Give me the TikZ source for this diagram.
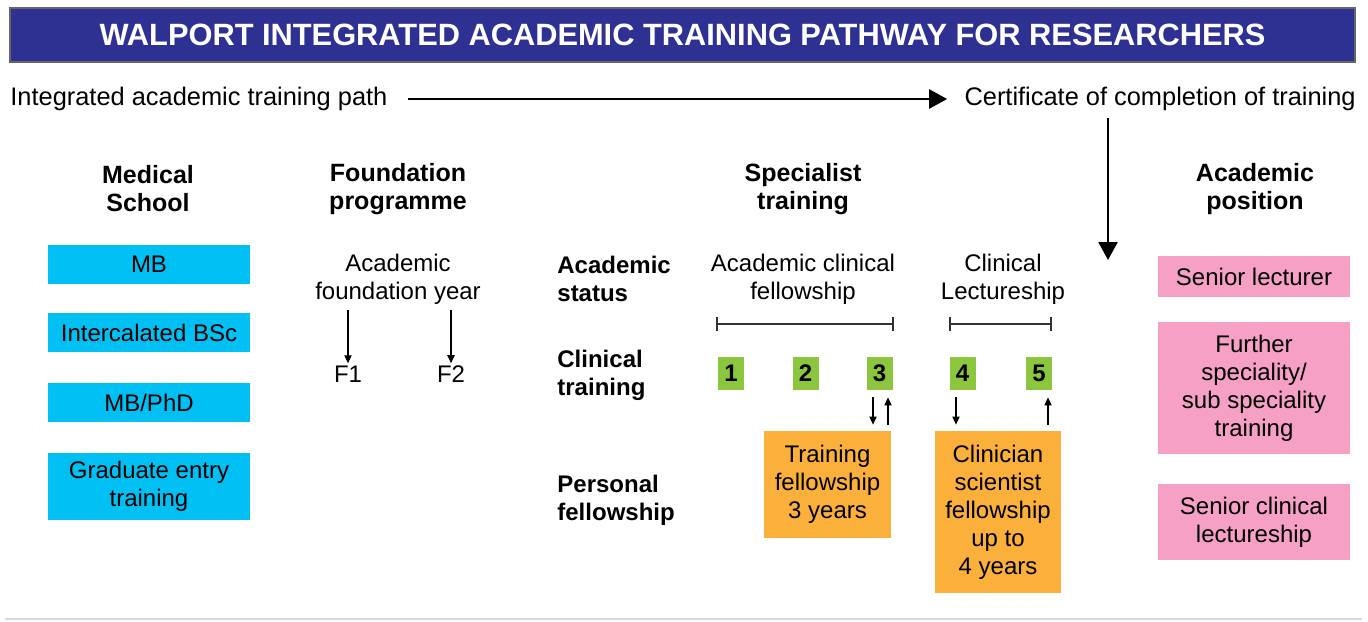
\documentclass[tikz,border=0pt]{standalone}
\usepackage{fontspec}
\setmainfont{Liberation Sans}
\usetikzlibrary{arrows.meta}
\definecolor{titleblue}{HTML}{2E3192}
\definecolor{cyanc}{HTML}{00BFF3}
\definecolor{greenc}{HTML}{8CC63F}
\definecolor{orangec}{HTML}{FBB03B}
\definecolor{pinkc}{HTML}{F5A0C4}
\begin{document}
\begin{tikzpicture}[x=0.5pt,y=-0.5pt,
  font=\fontsize{12}{14}\selectfont,
  box/.style={inner sep=0pt, align=center, text=black},
  bluebox/.style={box, fill=cyanc, minimum width=101pt},
  greenbox/.style={box, fill=greenc, minimum width=13pt, minimum height=16.5pt, font=\bfseries\fontsize{12}{14}\selectfont},
  orangebox/.style={box, fill=orangec, minimum width=63.5pt},
  pinkbox/.style={box, fill=pinkc, minimum width=96pt},
  hdr/.style={align=center, font=\bfseries\fontsize{12.5}{14}\selectfont},
  rowlbl/.style={align=left, anchor=west, inner sep=0pt, font=\bfseries\fontsize{12}{14}\selectfont},
  plain/.style={align=center, inner sep=1pt},
  toptext/.style={inner sep=0pt, font=\fontsize{12.7}{14}\selectfont},
  bigarrow/.style={line width=1.2pt, -{Triangle[length=9pt,width=9.5pt]}},
  sarrow/.style={line width=0.6pt, -{Triangle[length=4pt,width=3.6pt]}},
  brk/.style={line width=0.6pt, draw=black!80}
]
\useasboundingbox (0,0) rectangle (1368,621);

% title
\node[fill=titleblue, draw=black!60, line width=0.8pt, minimum width=672.5pt, minimum height=27pt,
      text=white, font=\bfseries\fontsize{15.4}{17}\selectfont] (title) at (682.5,35)
      {WALPORT INTEGRATED ACADEMIC TRAINING PATHWAY FOR RESEARCHERS};

% top pathway
\node[toptext, anchor=west] (path) at (10,99) {Integrated academic training path};
\node[toptext, anchor=east] (cert) at (1356,99) {Certificate of completion of training};
\draw[bigarrow, shorten <=10pt, shorten >=8.5pt] (path.east) -- (cert.west);
\coordinate (dtop) at (1108,118);
\coordinate (dbot) at (1108,260);
\draw[bigarrow] (dtop) -- (dbot);

% headers
\node[hdr] (h1) at (148,189) {Medical\\School};
\node[hdr] (h2) at (398,189) {Foundation\\programme};
\node[hdr] (h3) at (803,189) {Specialist\\training};
\node[hdr] (h4) at (1255,189) {Academic\\position};

% medical school boxes
\node[bluebox, minimum height=19.5pt] (mb) at (149,264.5) {MB};
\node[bluebox, minimum height=19.5pt] (bsc) at (149,332.5) {Intercalated BSc};
\node[bluebox, minimum height=19.5pt] (phd) at (149,402.5) {MB/PhD};
\node[bluebox, minimum height=33.5pt] (grad) at (149,486.5) {Graduate entry\\training};

% foundation
\node[plain] (afy) at (398,279) {Academic\\foundation year};
\node[plain] (f1) at (348,374) {F1};
\node[plain] (f2) at (451,374) {F2};
\draw[sarrow] (f1.north |- 0,310) -- (f1.north);
\draw[sarrow] (f2.north |- 0,310) -- (f2.north);

% row labels
\node[rowlbl] (rs) at (557,279) {Academic\\status};
\node[rowlbl] (rc) at (557,375) {Clinical\\training};
\node[rowlbl] (rp) at (557,500) {Personal\\fellowship};

% academic status
\node[plain] (acf) at (803,279) {Academic clinical\\fellowship};
\node[plain] (cl) at (1003,279) {Clinical\\Lectureship};
\coordinate (b1l) at (717,324);
\coordinate (b1r) at (893,324);
\coordinate (b2l) at (950,324);
\coordinate (b2r) at (1051,324);
\draw[brk] (b1l) -- (b1r);
\draw[brk] ([yshift=3.5pt]b1l) -- ([yshift=-3.5pt]b1l);
\draw[brk] ([yshift=3.5pt]b1r) -- ([yshift=-3.5pt]b1r);
\draw[brk] (b2l) -- (b2r);
\draw[brk] ([yshift=3.5pt]b2l) -- ([yshift=-3.5pt]b2l);
\draw[brk] ([yshift=3.5pt]b2r) -- ([yshift=-3.5pt]b2r);

% clinical training
\node[greenbox] (g1) at (731,373.5) {1};
\node[greenbox] (g2) at (805.5,373.5) {2};
\node[greenbox] (g3) at (879.5,373.5) {3};
\node[greenbox] (g4) at (962.5,373.5) {4};
\node[greenbox] (g5) at (1039,373.5) {5};

% personal fellowship
\node[orangebox, minimum height=53.5pt] (tf) at (827.5,484.5) {Training\\fellowship\\3 years};
\node[orangebox, minimum width=63pt, minimum height=81pt] (cs) at (998,512) {Clinician\\scientist\\fellowship\\up to\\4 years};

% small arrows
\draw[sarrow, shorten <=3.5pt, shorten >=3pt] ([xshift=-3.25pt]g3.south) -- ([xshift=-3.25pt]g3.south |- tf.north);
\draw[sarrow, shorten <=3pt, shorten >=3.5pt] ([xshift=4.25pt]g3.south |- tf.north) -- ([xshift=4.25pt]g3.south);
\draw[sarrow, shorten <=3.5pt, shorten >=3pt] ([xshift=-3.25pt]g4.south) -- ([xshift=-3.25pt]g4.south |- cs.north);
\draw[sarrow, shorten <=3pt, shorten >=3.5pt] ([xshift=4.5pt]g5.south |- cs.north) -- ([xshift=4.5pt]g5.south);

% academic position
\node[pinkbox, minimum height=20.5pt] (sl) at (1254,276.5) {Senior lecturer};
\node[pinkbox, minimum height=66pt] (fs) at (1254,388) {Further\\speciality/\\sub speciality\\training};
\node[pinkbox, minimum height=38pt] (scl) at (1254,522) {Senior clinical\\lectureship};

% bottom rule
\coordinate (rl) at (5,619);
\coordinate (rr) at (1362,619);
\draw[black!15, line width=1pt] (rl) -- (rr);
\end{tikzpicture}
\end{document}
